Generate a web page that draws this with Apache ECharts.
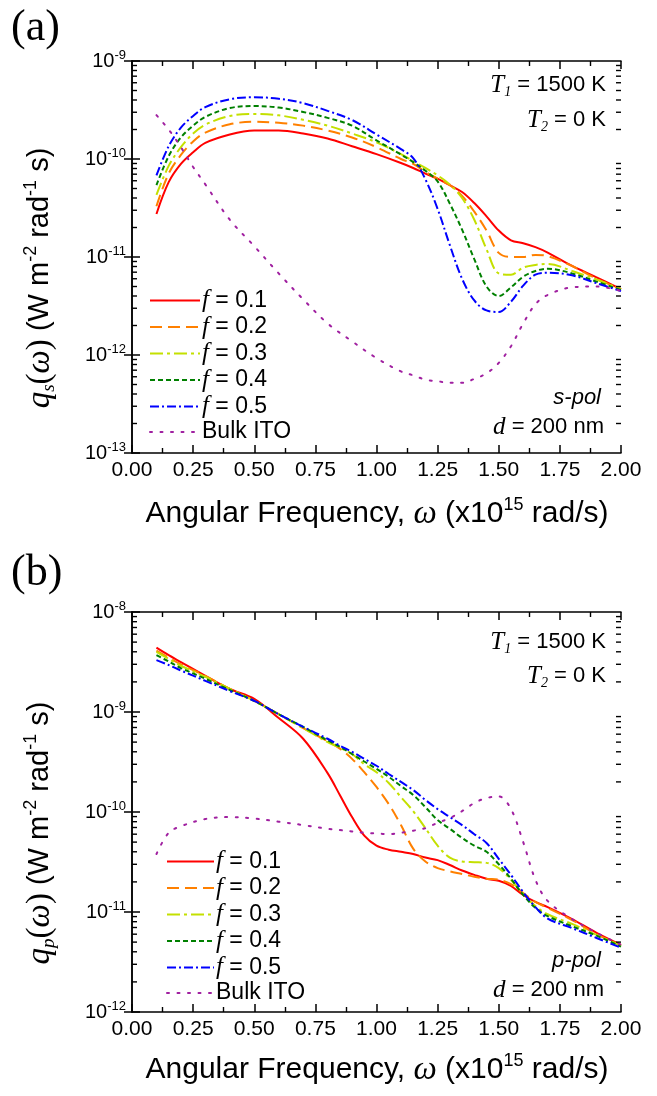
<!DOCTYPE html>
<html>
<head>
<meta charset="utf-8">
<script src="https://cdn.jsdelivr.net/npm/echarts@6/dist/echarts.min.js"></script>
<style>
  html, body { margin: 0; padding: 0; background: #fff; }
  #chart { width: 657px; height: 1096px; }
</style>
</head>
<body>
<div id="chart"></div>
<script>
// angular frequency grid (x10^15 rad/s)
const omegaS = [0.10, 0.15, 0.20, 0.25, 0.30, 0.40, 0.50, 0.60, 0.70, 0.80, 0.90, 1.00, 1.10, 1.15,
  1.20, 1.25, 1.30, 1.35, 1.40, 1.45, 1.50, 1.55, 1.60, 1.65, 1.70, 1.80, 1.90, 2.00];
const omegaP = [0.10, 0.15, 0.20, 0.30, 0.40, 0.50, 0.60, 0.70, 0.80, 0.85, 0.90, 0.95, 1.00, 1.05,
  1.10, 1.15, 1.20, 1.25, 1.30, 1.35, 1.40, 1.45, 1.50, 1.55, 1.60, 1.65, 1.70, 1.80, 1.90, 2.00];

// (a) s-pol
const sF01 = [2.75e-11, 5.8e-11, 8.9e-11, 1.17e-10, 1.46e-10, 1.78e-10, 1.95e-10, 1.95e-10, 1.82e-10, 1.62e-10,
  1.35e-10, 1.12e-10, 9.1e-11, 8.1e-11, 7.1e-11, 6.3e-11, 5.4e-11, 4.6e-11, 3.55e-11, 2.6e-11, 1.86e-11,
  1.48e-11, 1.38e-11, 1.26e-11, 1.11e-11, 8.1e-12, 6.2e-12, 4.7e-12];
const sF02 = [3.3e-11, 7.1e-11, 1.10e-10, 1.51e-10, 1.86e-10, 2.26e-10, 2.40e-10, 2.34e-10, 2.19e-10, 1.95e-10,
  1.66e-10, 1.32e-10, 1.0e-10, 8.9e-11, 7.4e-11, 6.3e-11, 5.4e-11, 4.2e-11, 2.9e-11, 1.86e-11, 1.1e-11,
  1.0e-11, 1.0e-11, 1.05e-11, 1.02e-11, 8.1e-12, 6.0e-12, 4.7e-12];
const sF03 = [4.3e-11, 8.5e-11, 1.32e-10, 1.82e-10, 2.24e-10, 2.75e-10, 2.88e-10, 2.79e-10, 2.51e-10, 2.19e-10,
  1.82e-10, 1.48e-10, 1.12e-10, 9.5e-11, 8.1e-11, 6.8e-11, 5.5e-11, 4.0e-11, 2.4e-11, 1.2e-11, 6.8e-12,
  6.6e-12, 7.8e-12, 8.3e-12, 8.5e-12, 7.2e-12, 5.9e-12, 4.7e-12];
const sF04 = [5.4e-11, 1.07e-10, 1.66e-10, 2.19e-10, 2.69e-10, 3.31e-10, 3.47e-10, 3.35e-10, 3.02e-10, 2.63e-10,
  2.19e-10, 1.55e-10, 1.11e-10, 9.3e-11, 7.6e-11, 5.9e-11, 3.5e-11, 1.9e-11, 9.5e-12, 5.0e-12, 4.0e-12,
  4.9e-12, 6.3e-12, 7.2e-12, 7.6e-12, 6.8e-12, 5.6e-12, 4.6e-12];
const sF05 = [6.8e-11, 1.35e-10, 2.09e-10, 2.75e-10, 3.39e-10, 4.07e-10, 4.27e-10, 4.12e-10, 3.72e-10, 3.1e-10,
  2.5e-10, 1.78e-10, 1.26e-10, 1.02e-10, 6.2e-11, 3.1e-11, 1.32e-11, 6.0e-12, 3.6e-12, 2.85e-12, 2.75e-12,
  3.5e-12, 5.1e-12, 6.6e-12, 6.9e-12, 6.5e-12, 5.4e-12, 4.5e-12];
const sBulk = [2.8e-10, 2.0e-10, 1.32e-10, 8.3e-11, 5.5e-11, 2.4e-11, 1.29e-11, 6.8e-12, 3.7e-12, 2.1e-12,
  1.38e-12, 9.3e-13, 6.8e-13, 6.2e-13, 5.6e-13, 5.4e-13, 5.2e-13, 5.2e-13, 5.7e-13, 6.5e-13, 8.3e-13,
  1.23e-12, 2.1e-12, 3.3e-12, 4.1e-12, 4.9e-12, 5.0e-12, 4.5e-12];

// (b) p-pol
const pF01 = [4.4e-9, 3.7e-9, 3.16e-9, 2.3e-9, 1.70e-9, 1.35e-9, 8.7e-10, 5.4e-10, 2.45e-10, 1.48e-10, 8.9e-11,
  5.8e-11, 4.6e-11, 4.2e-11, 4.0e-11, 3.8e-11, 3.5e-11, 3.3e-11, 2.95e-11, 2.6e-11, 2.35e-11, 2.15e-11,
  2.05e-11, 1.82e-11, 1.48e-11, 1.26e-11, 1.12e-11, 8.5e-12, 6.2e-12, 4.7e-12];
const pF02 = [4.1e-9, 3.5e-9, 3.0e-9, 2.3e-9, 1.70e-9, 1.29e-9, 9.5e-10, 6.9e-10, 5.1e-10, 4.3e-10, 3.4e-10,
  2.5e-10, 1.78e-10, 1.2e-10, 7.4e-11, 4.3e-11, 3.2e-11, 2.75e-11, 2.55e-11, 2.4e-11, 2.25e-11, 2.15e-11,
  2.1e-11, 1.9e-11, 1.55e-11, 1.26e-11, 1.10e-11, 8.3e-12, 6.0e-12, 4.6e-12];
const pF03 = [4.0e-9, 3.4e-9, 2.9e-9, 2.25e-9, 1.70e-9, 1.29e-9, 9.5e-10, 6.9e-10, 5.0e-10, 4.4e-10, 3.8e-10,
  3.0e-10, 2.5e-10, 1.95e-10, 1.41e-10, 1.02e-10, 6.9e-11, 4.6e-11, 3.5e-11, 3.2e-11, 3.15e-11, 3.1e-11,
  2.75e-11, 2.1e-11, 1.5e-11, 1.15e-11, 9.5e-12, 7.6e-12, 5.9e-12, 4.6e-12];
const pF04 = [3.7e-9, 3.2e-9, 2.75e-9, 2.15e-9, 1.66e-9, 1.29e-9, 9.5e-10, 7.1e-10, 5.2e-10, 4.5e-10, 3.8e-10,
  3.2e-10, 2.7e-10, 2.25e-10, 1.82e-10, 1.48e-10, 1.12e-10, 8.3e-11, 6.8e-11, 5.5e-11, 4.6e-11, 4.0e-11,
  3.0e-11, 2.15e-11, 1.48e-11, 1.10e-11, 9.1e-12, 7.2e-12, 5.8e-12, 4.5e-12];
const pF05 = [3.3e-9, 2.95e-9, 2.6e-9, 2.05e-9, 1.62e-9, 1.29e-9, 9.5e-10, 7.1e-10, 5.4e-10, 4.6e-10, 4.0e-10,
  3.4e-10, 2.9e-10, 2.4e-10, 2.0e-10, 1.66e-10, 1.32e-10, 1.07e-10, 8.9e-11, 7.4e-11, 6.0e-11, 4.9e-11,
  3.4e-11, 2.35e-11, 1.58e-11, 1.12e-11, 8.6e-12, 6.9e-12, 5.5e-12, 4.4e-12];
const pBulk = [3.8e-11, 6.2e-11, 7.2e-11, 8.5e-11, 8.9e-11, 8.6e-11, 8.0e-11, 7.4e-11, 6.8e-11, 6.6e-11, 6.4e-11,
  6.2e-11, 6.1e-11, 6.0e-11, 6.2e-11, 6.5e-11, 6.9e-11, 7.8e-11, 8.7e-11, 1.02e-10, 1.23e-10, 1.38e-10,
  1.43e-10, 1.07e-10, 5.0e-11, 2.1e-11, 1.29e-11, 8.5e-12, 6.2e-12, 4.7e-12];

const seriesNames = ['f = 0.1', 'f = 0.2', 'f = 0.3', 'f = 0.4', 'f = 0.5', 'Bulk ITO'];
const xTicks = [0, 2, 0.25]; // min, max, step
const minorMantissa = [2, 3, 4, 5, 6, 7, 8, 9];
const decadesS = [-13, -12, -11, -10];
const decadesP = [-12, -11, -10, -9];

const SANS = '"Liberation Sans", Arial, sans-serif';
const SERIF = '"Liberation Serif", "Times New Roman", serif';

const styles = [
  { color: '#ff0000', type: 'solid' },
  { color: '#ff8000', type: [12, 6] },
  { color: '#c4e000', type: [13, 4, 3, 4] },
  { color: '#008000', type: [5, 3] },
  { color: '#0000ff', type: [9, 3, 2, 3] },
  { color: '#a020a0', type: [2, 8.5], cap: 'round' }
];

function pts(xs, ys) { return xs.map((x, i) => [x, ys[i]]); }

function minorVals(decades) {
  const out = [];
  decades.forEach(d => minorMantissa.forEach(m => out.push([1, m * Math.pow(10, d)])));
  return out;
}

const myChart = echarts.init(document.getElementById('chart'));

function lineSeries(name, data, k, gi) {
  return {
    name: name,
    type: 'line',
    xAxisIndex: gi * 2,
    yAxisIndex: gi * 2,
    data: data,
    smooth: 0.35,
    symbol: 'none',
    showSymbol: false,
    lineStyle: { color: styles[k].color, type: styles[k].type, width: 2, cap: styles[k].cap || 'butt' },
    itemStyle: { color: styles[k].color },
    z: 3
  };
}

// log-axis minor ticks (2..9 of each decade) on the left and right frame
function minorTickSeries(gi, decades) {
  return {
    type: 'custom',
    xAxisIndex: gi * 2,
    yAxisIndex: gi * 2,
    silent: true,
    clip: false,
    data: minorVals(decades),
    encode: { x: 0, y: 1 },
    z: 5,
    renderItem: function (params, api) {
      const cs = params.coordSys;
      const y = api.coord([1, api.value(1)])[1];
      return {
        type: 'group',
        children: [
          { type: 'line', shape: { x1: cs.x, y1: y, x2: cs.x + 5, y2: y }, style: { stroke: '#000', lineWidth: 1.4 } },
          { type: 'line', shape: { x1: cs.x + cs.width, y1: y, x2: cs.x + cs.width - 5, y2: y }, style: { stroke: '#000', lineWidth: 1.4 } }
        ]
      };
    }
  };
}

function xAxisPair(gi) {
  const common = {
    type: 'value', gridIndex: gi, min: xTicks[0], max: xTicks[1], interval: xTicks[2],
    splitLine: { show: false },
    axisLine: { lineStyle: { color: '#000', width: 1.5 } },
    axisTick: { inside: true, length: 8, lineStyle: { color: '#000', width: 1.5 } },
    minorTick: { show: true, splitNumber: 2, length: 5, lineStyle: { color: '#000', width: 1.4 } },
    minorSplitLine: { show: false }
  };
  return [
    Object.assign({}, common, {
      position: 'bottom',
      axisLabel: { show: true, margin: 7, fontSize: 21, fontFamily: SANS, color: '#000',
        formatter: v => v.toFixed(2) }
    }),
    Object.assign({}, common, { position: 'top', axisLabel: { show: false } })
  ];
}

function yAxisPair(gi, lo, hi) {
  const common = {
    type: 'log', logBase: 10, gridIndex: gi, min: lo, max: hi,
    splitLine: { show: false },
    axisLine: { lineStyle: { color: '#000', width: 1.5 } },
    axisTick: { inside: true, length: 8, lineStyle: { color: '#000', width: 1.5 } }
  };
  return [
    Object.assign({}, common, {
      position: 'left',
      axisLabel: {
        show: true, margin: 6, color: '#000',
        formatter: v => '{b|10}{s|' + Math.round(Math.log10(v)) + '}',
        rich: {
          b: { fontSize: 20, fontFamily: SANS, color: '#000', lineHeight: 24 },
          s: { fontSize: 13, fontFamily: SANS, color: '#000', lineHeight: 13, padding: [0, 0, 12, 0] }
        }
      }
    }),
    Object.assign({}, common, { position: 'right', axisLabel: { show: false } })
  ];
}

function legendFor(top, left, w) {
  return {
    data: seriesNames,
    orient: 'vertical',
    left: left,
    top: top,
    itemWidth: w,
    itemHeight: 14,
    itemGap: 1.5,
    selectedMode: false,
    itemStyle: { opacity: 0 },
    textStyle: {
      fontSize: 23, fontFamily: SANS, color: '#000', lineHeight: 20, padding: [0, 0, 0, -3],
      rich: { i: { fontFamily: SERIF, fontStyle: 'italic', fontSize: 25, lineHeight: 20, color: '#000' } }
    },
    formatter: name => name.charAt(0) === 'f' ? '{i|f}' + name.slice(1) : name
  };
}

const annRich = {
  it: { fontFamily: SERIF, fontStyle: 'italic', fontSize: 25, color: '#000' },
  sub: { fontFamily: SERIF, fontStyle: 'italic', fontSize: 14, color: '#000', padding: [14, 0, 0, 0] },
  ia: { fontFamily: SANS, fontStyle: 'italic', fontSize: 22, color: '#000' }
};

function ann(x, y, text) {
  return {
    type: 'text', x: x, y: y, z: 10,
    style: { text: text, fontSize: 22, fontFamily: SANS, fill: '#000', align: 'right', verticalAlign: 'middle', rich: annRich }
  };
}

const titleRich = {
  it: { fontFamily: SERIF, fontStyle: 'italic', fontSize: 33, color: '#000' },
  sr: { fontFamily: SERIF, fontSize: 33, color: '#000' },
  sub: { fontFamily: SERIF, fontStyle: 'italic', fontSize: 19, color: '#000', padding: [18, 0, 0, 0] },
  sup: { fontFamily: SANS, fontSize: 18, color: '#000', padding: [0, 0, 18, 0] }
};

function yTitle(y, sub) {
  return {
    type: 'text', x: 40, y: y, rotation: Math.PI / 2, z: 10,
    style: {
      text: '{it|q}{sub|' + sub + '}{sr|(}{it|ω}{sr|)} (W m{sup|-2} rad{sup|-1} s)',
      fontSize: 29, fontFamily: SANS, fill: '#000', align: 'center', verticalAlign: 'middle', rich: titleRich
    }
  };
}

function xTitle(y) {
  return {
    type: 'text', x: 377, y: y, z: 10,
    style: {
      text: 'Angular Frequency, {it|ω} (x10{sup|15} rad/s)',
      fontSize: 30, fontFamily: SANS, fill: '#000', align: 'center', verticalAlign: 'middle', rich: titleRich
    }
  };
}

const option = {
  animation: false,
  backgroundColor: '#fff',
  grid: [
    { left: 132, top: 61, width: 489, height: 392 },
    { left: 132, top: 612, width: 489, height: 400 }
  ],
  xAxis: [].concat(xAxisPair(0), xAxisPair(1)),
  yAxis: [].concat(yAxisPair(0, 1e-13, 1e-9), yAxisPair(1, 1e-12, 1e-8)),
  legend: [legendFor(283, 144, 50), legendFor(844, 161, 47)],
  series: [
    lineSeries(seriesNames[0], pts(omegaS, sF01), 0, 0),
    lineSeries(seriesNames[1], pts(omegaS, sF02), 1, 0),
    lineSeries(seriesNames[2], pts(omegaS, sF03), 2, 0),
    lineSeries(seriesNames[3], pts(omegaS, sF04), 3, 0),
    lineSeries(seriesNames[4], pts(omegaS, sF05), 4, 0),
    lineSeries(seriesNames[5], pts(omegaS, sBulk), 5, 0),
    lineSeries(seriesNames[0], pts(omegaP, pF01), 0, 1),
    lineSeries(seriesNames[1], pts(omegaP, pF02), 1, 1),
    lineSeries(seriesNames[2], pts(omegaP, pF03), 2, 1),
    lineSeries(seriesNames[3], pts(omegaP, pF04), 3, 1),
    lineSeries(seriesNames[4], pts(omegaP, pF05), 4, 1),
    lineSeries(seriesNames[5], pts(omegaP, pBulk), 5, 1),
    minorTickSeries(0, decadesS),
    minorTickSeries(1, decadesP)
  ],
  graphic: [
    { type: 'text', x: 11, y: 6, style: { text: '(a)', fontSize: 44, fontFamily: SERIF, fill: '#000' } },
    { type: 'text', x: 11, y: 551, style: { text: '(b)', fontSize: 44, fontFamily: SERIF, fill: '#000' } },
    ann(606, 85, '{it|T}{sub|1} = 1500 K'),
    ann(606, 120, '{it|T}{sub|2} = 0 K'),
    ann(601, 398, '{ia|s-pol}'),
    ann(604, 427, '{it|d} = 200 nm'),
    ann(606, 642, '{it|T}{sub|1} = 1500 K'),
    ann(606, 676, '{it|T}{sub|2} = 0 K'),
    ann(601, 961, '{ia|p-pol}'),
    ann(604, 990, '{it|d} = 200 nm'),
    yTitle(278, 's'),
    yTitle(833, 'p'),
    xTitle(514),
    xTitle(1070)
  ]
};

myChart.setOption(option);
</script>
</body>
</html>
